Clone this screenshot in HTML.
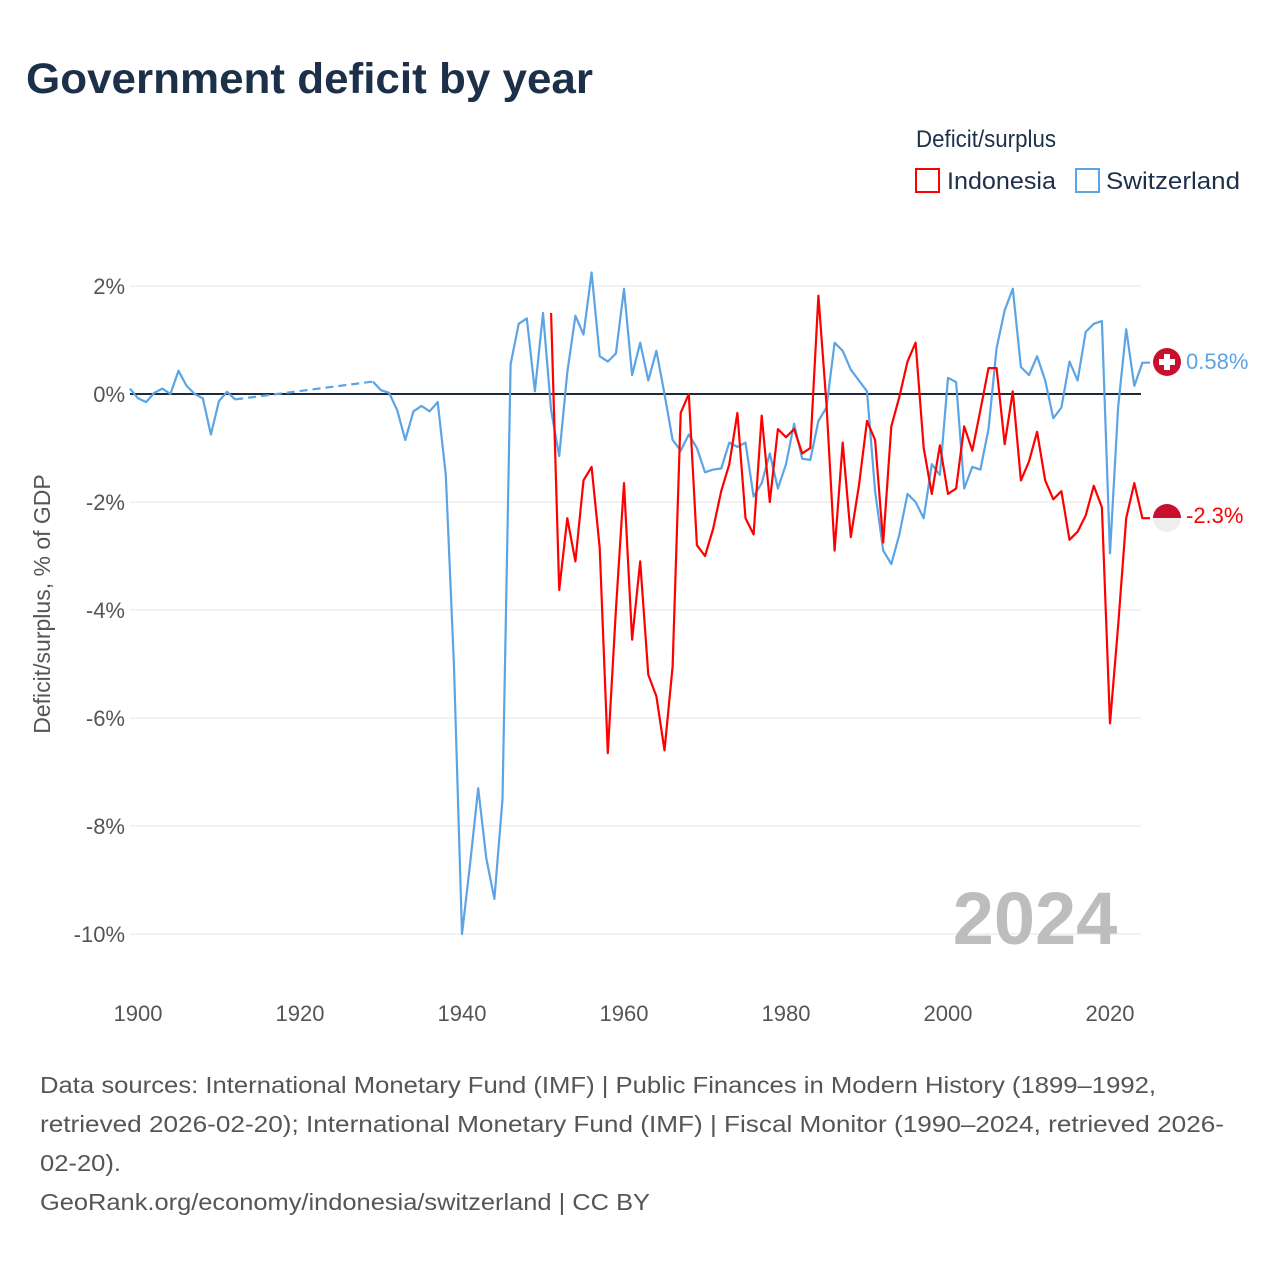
<!DOCTYPE html>
<html><head><meta charset="utf-8"><style>
body{margin:0;background:#fff;font-family:"Liberation Sans",sans-serif;}
</style></head><body>
<svg width="1280" height="1280" viewBox="0 0 1280 1280" xmlns="http://www.w3.org/2000/svg">
<text x="26" y="93" font-size="43" font-weight="bold" fill="#1d3049" textLength="567" lengthAdjust="spacingAndGlyphs">Government deficit by year</text>
<text x="916" y="147" font-size="24" fill="#1d3049" textLength="140" lengthAdjust="spacingAndGlyphs">Deficit/surplus</text>
<g><rect x="916" y="169" width="23" height="23" fill="none" stroke="#ff0000" stroke-width="2"/><text x="947" y="189" font-size="24" fill="#1d3049" textLength="109" lengthAdjust="spacingAndGlyphs">Indonesia</text></g>
<g><rect x="1076" y="169" width="23" height="23" fill="none" stroke="#5ba4e5" stroke-width="2"/><text x="1106" y="189" font-size="24" fill="#1d3049" textLength="134" lengthAdjust="spacingAndGlyphs">Switzerland</text></g>
<g id="grid"></g>
<g id="xt"></g>
<text transform="translate(50,604) rotate(-90)" text-anchor="middle" font-size="23" fill="#555">Deficit/surplus, % of GDP</text>
<text x="1035" y="944" text-anchor="middle" font-size="74" font-weight="bold" fill="#bdbdbd">2024</text>
<g id="series"></g>
<g><circle cx="1167" cy="362" r="14" fill="#c8102e"/><rect x="1164" y="354" width="6" height="16" fill="#fff"/><rect x="1159" y="359" width="16" height="6" fill="#fff"/><text x="1186" y="369" font-size="22" fill="#5ba4e5">0.58%</text></g>
<g><path d="M1153 518 A14 14 0 0 1 1181 518 Z" fill="#c8102e"/><path d="M1153 518 A14 14 0 0 0 1181 518 Z" fill="#eee"/><text x="1186" y="523" font-size="22" fill="#ff0000">-2.3%</text></g>
<g font-size="23" fill="#555">
<text x="40" y="1093" textLength="1116" lengthAdjust="spacingAndGlyphs">Data sources: International Monetary Fund (IMF) | Public Finances in Modern History (1899–1992,</text>
<text x="40" y="1132" textLength="1184" lengthAdjust="spacingAndGlyphs">retrieved 2026-02-20); International Monetary Fund (IMF) | Fiscal Monitor (1990–2024, retrieved 2026-</text>
<text x="40" y="1171" textLength="81" lengthAdjust="spacingAndGlyphs">02-20).</text>
<text x="40" y="1210" textLength="610" lengthAdjust="spacingAndGlyphs">GeoRank.org/economy/indonesia/switzerland | CC BY</text>
</g>
</svg>
<script>
const yTicks=[2,0,-2,-4,-6,-8,-10];
const xTicks=[1900,1920,1940,1960,1980,2000,2020];
const chYearsA=[1899,1900,1901,1902,1903,1904,1905,1906,1907,1908,1909,1910,1911,1912];
const chValsA=[0.1,-0.08,-0.15,0.02,0.1,0.0,0.43,0.15,0.0,-0.08,-0.75,-0.13,0.04,-0.1];
const chStartB=1929;
const chValsB=[0.23,0.07,0.02,-0.3,-0.85,-0.32,-0.22,-0.32,-0.15,-1.5,-5.0,-10.0,-8.7,-7.3,-8.6,-9.35,-7.5,0.55,1.3,1.4,0.05,1.5,-0.3,-1.15,0.4,1.45,1.1,2.25,0.7,0.6,0.75,1.95,0.35,0.95,0.25,0.8,0.0,-0.85,-1.05,-0.75,-1.0,-1.45,-1.4,-1.38,-0.9,-0.98,-0.9,-1.9,-1.65,-1.1,-1.75,-1.3,-0.55,-1.2,-1.22,-0.5,-0.25,0.95,0.8,0.45,0.25,0.05,-1.8,-2.9,-3.15,-2.6,-1.85,-2.0,-2.3,-1.3,-1.5,0.3,0.22,-1.75,-1.35,-1.4,-0.65,0.85,1.55,1.95,0.5,0.35,0.7,0.25,-0.45,-0.25,0.6,0.25,1.15,1.3,1.35,-2.95,-0.25,1.2,0.15,0.58];
const idStart=1951;
const idVals=[1.5,-3.63,-2.3,-3.1,-1.6,-1.35,-2.85,-6.65,-4.0,-1.65,-4.55,-3.1,-5.2,-5.6,-6.6,-5.05,-0.35,0.0,-2.8,-3.0,-2.5,-1.8,-1.3,-0.35,-2.3,-2.6,-0.4,-2.0,-0.65,-0.8,-0.65,-1.1,-1.0,1.82,-0.2,-2.9,-0.9,-2.65,-1.7,-0.5,-0.85,-2.75,-0.6,-0.05,0.6,0.95,-1.0,-1.85,-0.95,-1.85,-1.75,-0.6,-1.05,-0.3,0.48,0.48,-0.93,0.05,-1.6,-1.25,-0.7,-1.6,-1.95,-1.8,-2.7,-2.55,-2.25,-1.7,-2.1,-6.1,-4.3,-2.3,-1.65,-2.3];
const X=y=>138+(y-1900)*8.1, Y=v=>394-54*v;
const NS='http://www.w3.org/2000/svg';
function mk(t,a,p){const e=document.createElementNS(NS,t);for(const k in a)e.setAttribute(k,a[k]);p.appendChild(e);return e;}
const grid=document.getElementById('grid');
yTicks.forEach(v=>{
 const l=mk('line',{x1:130,x2:1141,y1:Y(v),y2:Y(v),stroke:v===0?'#1d2a38':'#e4e4e4','stroke-width':v===0?2:1},grid);
 
 
 const t=mk('text',{x:125,y:Y(v)+8,'text-anchor':'end','font-size':22,fill:'#555'},grid);
 t.textContent=v+'%';
 
 
});
const xt=document.getElementById('xt');
xTicks.forEach(y=>{
 const t=mk('text',{x:X(y),y:1021,'text-anchor':'middle','font-size':22,fill:'#555'},xt);
 t.textContent=y;
 
 
});
const s=document.getElementById('series');
const pts=(ys,vs)=>vs.map((v,i)=>X(ys[i]).toFixed(1)+','+Y(v).toFixed(1)).join(' ');
const chA=mk('polyline',{points:pts(chYearsA,chValsA),fill:'none',stroke:'#5ba4e5','stroke-width':2.2,'stroke-linejoin':'round'},s);


const dash=mk('line',{x1:X(chYearsA[chYearsA.length-1]),y1:Y(chValsA[chValsA.length-1]),x2:X(chStartB),y2:Y(chValsB[0]),stroke:'#5ba4e5','stroke-width':2.2,'stroke-dasharray':'8,5'},s);


const yb=chValsB.map((_,i)=>chStartB+i);
const chB=mk('polyline',{points:pts(yb,chValsB)+' 1150,'+Y(chValsB[chValsB.length-1]),fill:'none',stroke:'#5ba4e5','stroke-width':2.2,'stroke-linejoin':'round'},s);


const yi=idVals.map((_,i)=>idStart+i);
const id=mk('polyline',{points:pts(yi,idVals)+' 1150,'+Y(idVals[idVals.length-1]),fill:'none',stroke:'#ff0000','stroke-width':2.2,'stroke-linejoin':'round'},s);


</script>
</body></html>
